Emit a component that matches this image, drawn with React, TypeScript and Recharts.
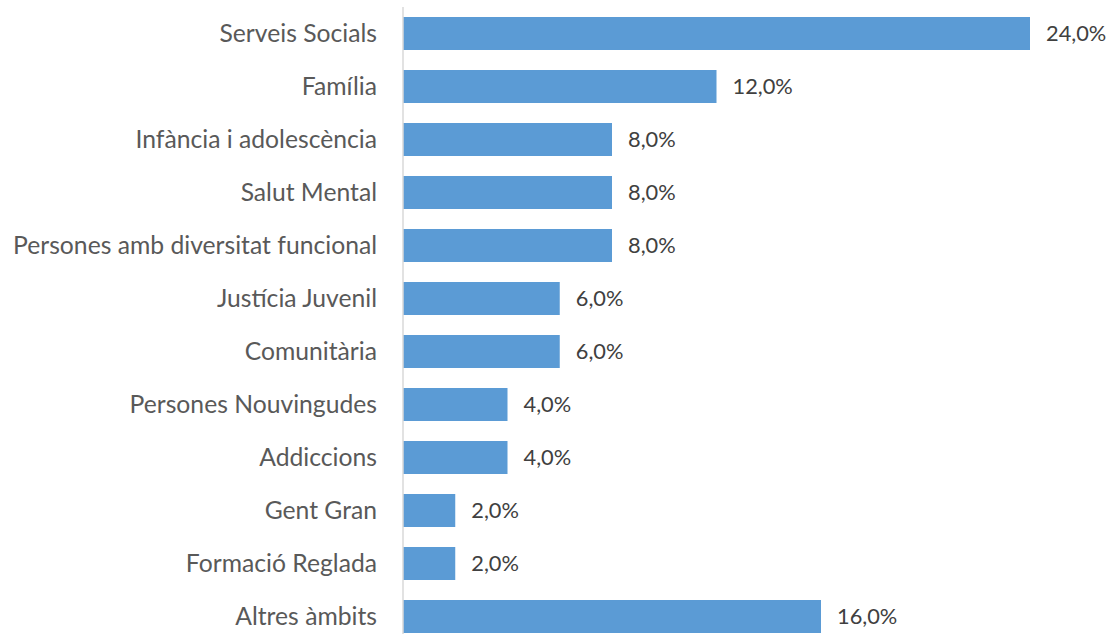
import React from "react";
import { BarChart, Bar, XAxis, YAxis, LabelList } from "recharts";

const categories = [
  "Serveis Socials",
  "Família",
  "Infància i adolescència",
  "Salut Mental",
  "Persones amb diversitat funcional",
  "Justícia Juvenil",
  "Comunitària",
  "Persones Nouvingudes",
  "Addiccions",
  "Gent Gran",
  "Formació Reglada",
  "Altres àmbits",
];
const values = [24, 12, 8, 8, 8, 6, 6, 4, 4, 2, 2, 16];

const data = categories.map((name, i) => ({ name, value: values[i] }));

const FONT = "Lato, 'Open Sans', sans-serif";

const fmt = (v: any) => Number(v).toFixed(1).replace(".", ",") + "%";

export default function App() {
  return (
    <div style={{ position: "absolute", left: 0, top: 0, width: 1109, height: 643, background: "#fff" }}>
      <BarChart
        width={1109}
        height={643}
        data={data}
        layout="vertical"
        margin={{ top: 7, right: 79, bottom: 0, left: 0 }}
      >
        <XAxis type="number" hide domain={[0, 24]} />
        <YAxis
          type="category"
          dataKey="name"
          width={403}
          tickLine={false}
          tickSize={0}
          tickMargin={26}
          axisLine={{ stroke: "#d9d9d9", strokeWidth: 1.5 }}
          tick={{ fill: "#595959", fontSize: 24.7, fontFamily: FONT }}
          interval={0}
        />
        <Bar dataKey="value" fill="#5b9bd5" barSize={33} isAnimationActive={false}>
          <LabelList
            dataKey="value"
            position="right"
            offset={16}
            formatter={fmt}
            style={{ fill: "#404040", fontSize: 21.8, fontFamily: FONT }}
          />
        </Bar>
      </BarChart>
    </div>
  );
}
